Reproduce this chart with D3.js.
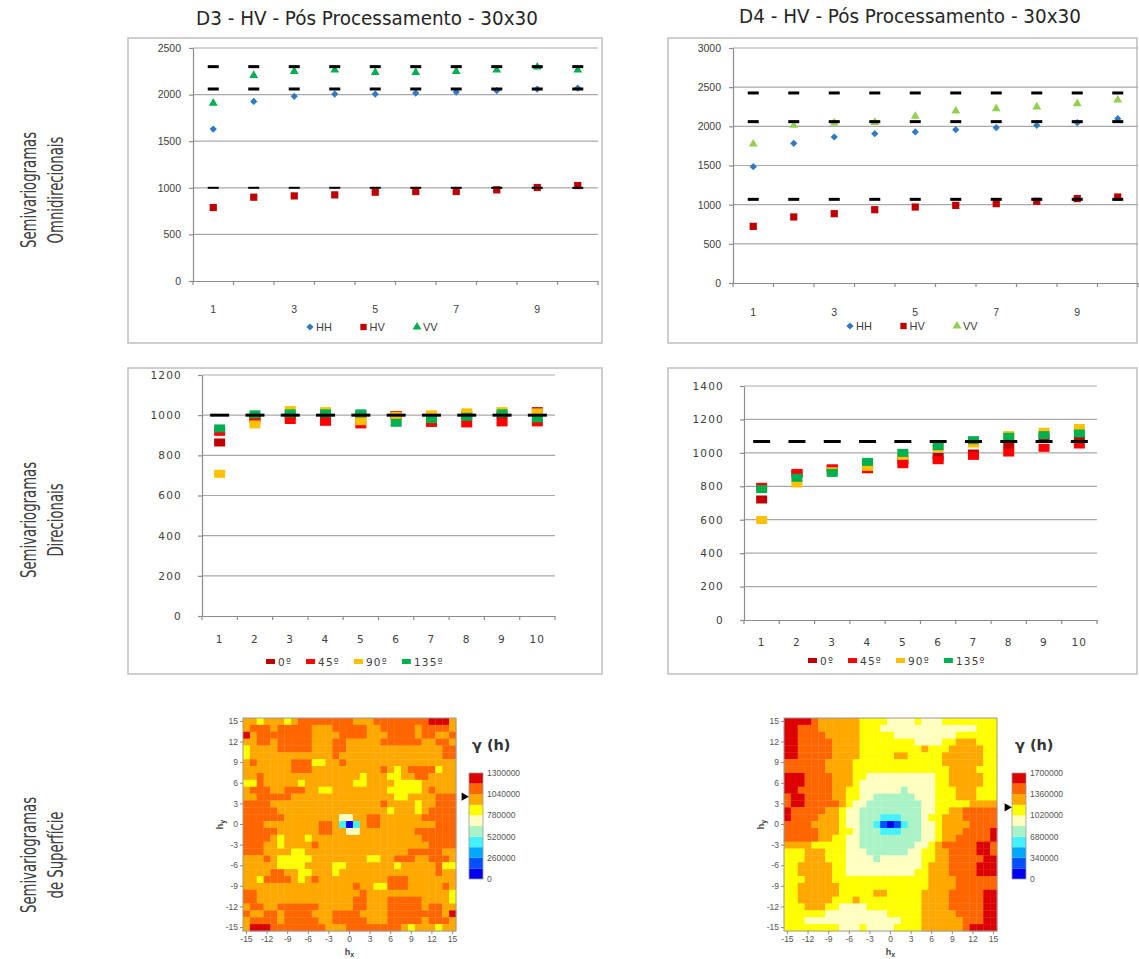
<!DOCTYPE html>
<html>
<head>
<meta charset="utf-8">
<script src="https://cdn.jsdelivr.net/npm/d3@7"></script>
<style>
  body { margin: 0; background: #fff; }
  svg { display: block; }
</style>
</head>
<body>
<script>
//chart values
var lags = [1, 2, 3, 4, 5, 6, 7, 8, 9, 10];
var omniNames = ["HH", "HV", "VV"];
var dirNames = ["0º", "45º", "90º", "135º"];
var titles = ["D3 - HV - Pós Processamento - 30x30", "D4 - HV - Pós Processamento - 30x30"];
var rowLabels = [["Semivariogramas", "Omnidirecionais"], ["Semivariogramas", "Direcionais"], ["Semivariogramas", "de Superfície"]];

//omnidirectional semivariograms
var d3HH = [1630, 1927, 1981, 2006, 2006, 2016, 2027, 2042, 2059, 2070];
var d3HV = [788, 899, 913, 924, 953, 960, 960, 978, 1003, 1024];
var d3VV = [1909, 2206, 2249, 2264, 2239, 2239, 2249, 2264, 2296, 2264];
var d3OmniSill = [2060, 1000, 2300];
var d3OmniTicks = [0, 500, 1000, 1500, 2000, 2500];

var d4HH = [1485, 1783, 1864, 1906, 1928, 1957, 1983, 2013, 2047, 2098];
var d4HV = [723, 843, 885, 936, 970, 991, 1013, 1043, 1077, 1098];
var d4VV = [1774, 2013, 2043, 2051, 2128, 2196, 2226, 2247, 2289, 2336];
var d4OmniSill = [2060, 1068, 2426];
var d4OmniTicks = [0, 500, 1000, 1500, 2000, 2500, 3000];

//directional semivariograms
var d3Dir0 = [864, 987, 1000, 1000, 1000, 1000, 962, 1000, 1000, 1020];
var d3Dir45 = [917, 984, 976, 967, 954, 1000, 964, 959, 964, 964];
var d3Dir90 = [708, 954, 1025, 1020, 970, 997, 1004, 1014, 1020, 1014];
var d3Dir135 = [934, 1004, 1009, 1009, 1009, 962, 980, 992, 1009, 984];
var d3DirSill = 1000;
var d3DirTicks = [0, 200, 400, 600, 800, 1000, 1200];

var d4Dir0 = [721, 876, 906, 916, 956, 976, 996, 1044, 1094, 1080];
var d4Dir45 = [797, 880, 906, 902, 932, 956, 982, 1002, 1030, 1050];
var d4Dir90 = [598, 817, 890, 916, 982, 1030, 1056, 1106, 1126, 1149];
var d4Dir135 = [783, 851, 880, 946, 1000, 1040, 1076, 1096, 1106, 1116];
var d4DirSill = 1068;
var d4DirTicks = [0, 200, 400, 600, 800, 1000, 1200, 1400];

//surface semivariograms: rows from hy=15 down to hy=-15, columns hx=-15..15
//class codes from low to high: D B S C G L Y A O R
var surfLags = [-15, -14, -13, -12, -11, -10, -9, -8, -7, -6, -5, -4, -3, -2, -1, 0,
                1, 2, 3, 4, 5, 6, 7, 8, 9, 10, 11, 12, 13, 14, 15];
var surfTicks = [-15, -12, -9, -6, -3, 0, 3, 6, 9, 12, 15];
var classCodes = ["D", "B", "S", "C", "G", "L", "Y", "A", "O", "R"];
var d3ColorTicks = [0, 260000, 520000, 780000, 1040000, 1300000];
var d4ColorTicks = [0, 340000, 680000, 1020000, 1360000, 1700000];
var d3ArrowValue = 1010000;
var d4ArrowValue = 1150000;

var d3Surface = [
  "AAYAAAYAOOOOOOOOAAAOOOOOOOORRRA",
  "AOOOAOOOOOAAAOOOOOAAOOOOOAOOOOA",
  "RAOOOOOOOOAAAAOOOOAAAOOOOAOOAAO",
  "AAOOAOOOOOAAAOOAAAAAOOOOOOAAOOA",
  "YAAAAOOOOOAAAOOAAAAAAAAAAAAAAOO",
  "YAAAAAAAAAAAAOAAAAAAAAAAAAAAAOO",
  "AOAAAAAOOOYYAAOAAAAAAAAAAAAAAAA",
  "AAAAAAAOOOAAAAAAAAAAOAYAOOOOYAA",
  "AAOAAAAAAAAAAAAAAYAAAYYAAOOAAAA",
  "YYOAAAAAYAAAAAAAYYAAAAYYYYAAAAA",
  "AOOOAAOOOAAYYAAAAAAAAYYYYYAOAAA",
  "AAOOOOOAAAAAAAAAAAAAAAYYAAAAOOO",
  "OOOOAAAAAAAAAAAAAAAAOAAAAYAAOOO",
  "OOOOOAAAAAAAAAAAAAAAAYAAAYAOOOO",
  "OOOOOOAAAAAAAALLAAOOAAAAAAOOOOO",
  "OOOAAAAAAAAOOACDCAOOAAAAAAAAOOO",
  "OOOOOAAAAAAOOAALLAAAAAAAAOOOOOO",
  "OOOOAYAAAYAAAAAAAAAAAAAAAAOOOOO",
  "OOOAAYAAAAOAAAAAAAAAAAAAAAAOOOO",
  "OOOAAAAYYAAAAAAAAAAAAAAAOOOOOAA",
  "AAAOAYYYYYAAAAAAAAYYAAOOOAAOOOA",
  "AAAAAYYYYAAAAYYAAAAAAAYAAAAAOYY",
  "AAAAOOAAYYAAAYAAAAAAAAAAAAAAOAA",
  "AAYOOOOAYAOAAAAAAAAAAOOOAAAAAAA",
  "AAAAAAAAAAAAAAAAOAAYYOOOAAAAAOA",
  "OOAAAAAAAAAAAAAAAOAAAAAAAAAAAAY",
  "OOAAAAAAAAAAAAAAOOAAAOOOOOAAAAY",
  "AOOAAOOOOOOAAAAAOOAAAOOOOOAOOAA",
  "OAAOOAOOOOAAAOOOOAAAAOOOOOOOOAR",
  "AOOOOAOOOOOAAOOOOOAAAOOOOOAOOOA",
  "ARRROOOOOOOOAAAOOOOOOOOAYAAAYAA"
];

var d4Surface = [
  "RRRROAAAAAAYYYYLLLLYLLLYYYYYYYY",
  "RROOOAAAAAAYYYLLLLLLLLLLLLLLYYY",
  "RROOOOAAAAAYYYYYLLLLLLLLLYYYYYY",
  "RROOOOOAAAAYYYYYYYYLLLLYYAAAYYY",
  "RROOOOOAAAAYYYYYYYYYAYYYAAAAAYY",
  "RROOOOOAAAAYYYYYAAYYYYYAAAAAAYY",
  "OOOOOOAAAAYYYYYYYYYYYYYAAAAAAYY",
  "OOOOOOAAAAYYYYYYYYYYYYYYAAAAYYY",
  "RRROOOOAAAYYLLLLLLLLLLYYAAAAAYY",
  "RRROOOOAAAYLLLLLLLLLLLYYAAAAAYY",
  "RROOOOOAAYYLLLLLLGLLLLYYYAAAYYY",
  "ORROOOOAAYYLLGGGGGGLLLYYYAAAYYY",
  "ORROOOOOAYLLGGGGGGGGLLYYYYYAAAA",
  "ROOOOOAAYLLGGGGGGGGGLLYYAAOOOOO",
  "ROOOOAAAYLLGGGCCCGGGLYYAAAOOOOO",
  "OOOOAAAAYLLGGCBDBCGGLLYAAAAOOOO",
  "OOOOOAAAYYLGGGCCCGGGLLYAAAOOOOR",
  "OOOOOAAYYLLGGGGGGGGGLLYAAOOOOOR",
  "AAAAYYYYYLLGGGGGGGGLLYAOOOOORRO",
  "YYYAAAYYYLLLGGGGGGLLYYAAOOOORRO",
  "YYYAAAYYYLLLLGLLLLLLYYAAOOOOORR",
  "YYAAAAAYYLLLLLLLLLLLYAAAOOOORRR",
  "YYAAAAAYYLLLLLLLLLLYYAAAOOOORRR",
  "YYYAAAAYYYYYYYYYYYYYYAAAAOOOOOO",
  "YYAAAAAAYYYYYYYYYYYYYAAAAOOOOOO",
  "YYAAAAAAYYYYYAAYYYYYAAAAOOOOORR",
  "YYAAAAAYYYAYYYYYYYYYAAAAOOOOORR",
  "YYYAAAYYLLLLYYYYYYYYAAAAOOOOORR",
  "YYYYYYLLLLLLLLLYYYYYAAAAAOOOORR",
  "YYYLLLLLLLLLLLLLLYYYAAAAAAOOORR",
  "YYYYYYYYLLLYLLLLYYYYAAAAAAORRRR"
];

(function(){

var width = 1139,
    height = 959;

var svg = d3.select("body")
    .append("svg")
    .attr("width", width)
    .attr("height", height)
    .style("font-family", "'Liberation Sans', Arial, sans-serif");

var narrow = "'Liberation Sans Narrow', 'DejaVu Sans Condensed', 'Liberation Sans', sans-serif";

//column titles
var titleCenters = d3.scaleOrdinal().domain(titles).range([367, 910]);
svg.selectAll(".title")
    .data(titles)
    .enter()
    .append("text")
    .attr("class", "title")
    .attr("x", function(d){ return titleCenters(d); })
    .attr("y", function(d, i){ return i ? 23 : 25; })
    .attr("text-anchor", "middle")
    .attr("textLength", 342)
    .attr("lengthAdjust", "spacingAndGlyphs")
    .style("font-family", narrow)
    .style("font-size", "19px")
    .style("fill", "#262626")
    .text(function(d){ return d; });

//row labels, rotated and squeezed like the original condensed face
var rowCenters = [190, 520, 855];
rowLabels.forEach(function(lines, i){
    lines.forEach(function(line, j){
        var t = svg.append("text")
            .attr("transform", "translate(" + (36 + j * 27) + "," + rowCenters[i] + ") rotate(-90)")
            .attr("text-anchor", "middle")
            .style("font-family", narrow)
            .style("font-size", "21px")
            .style("fill", "#404040")
            .text(line);
        t.attr("textLength", t.node().getComputedTextLength() * 0.7)
            .attr("lengthAdjust", "spacingAndGlyphs");
    });
});

drawOmni({
    box: [128, 38, 602, 343], left: 193, right: 598, top: 48, bottom: 281,
    ticks: d3OmniTicks, sill: d3OmniSill, sillH: [3, 2, 3], series: [d3HH, d3HV, d3VV],
    colors: ["#2e7bc4", "#c00000", "#00b050"], labelY: 313, legendY: 327
});
drawOmni({
    box: [668, 38, 1137, 343], left: 733, right: 1138, top: 48, bottom: 283,
    ticks: d4OmniTicks, sill: d4OmniSill, sillH: [3, 3, 3], series: [d4HH, d4HV, d4VV],
    colors: ["#2e7bc4", "#c00000", "#92d050"], labelY: 316, legendY: 326
});
drawDir({
    box: [128, 368, 602, 674], left: 202, right: 555, top: 375, bottom: 616,
    ticks: d3DirTicks, sill: d3DirSill, dashW: 19,
    series: [d3Dir0, d3Dir45, d3Dir90, d3Dir135], labelY: 643, legendY: 662
});
drawDir({
    box: [668, 368, 1137, 674], left: 744, right: 1097, top: 386, bottom: 620,
    ticks: d4DirTicks, sill: d4DirSill, dashW: 17,
    series: [d4Dir0, d4Dir45, d4Dir90, d4Dir135], labelY: 646, legendY: 661
});
drawSurface({
    grid: d3Surface, left: 243, top: 718, size: 213,
    colorTicks: d3ColorTicks, arrow: d3ArrowValue, barX: 469
});
drawSurface({
    grid: d4Surface, left: 784, top: 718, size: 213,
    colorTicks: d4ColorTicks, arrow: d4ArrowValue, barX: 1012
});


//frame around a chart
function frame(g, box){
    g.append("rect")
        .attr("x", box[0])
        .attr("y", box[1])
        .attr("width", box[2] - box[0])
        .attr("height", box[3] - box[1])
        .attr("fill", "none")
        .attr("stroke", "#c4c4c4")
        .attr("stroke-width", 1.6);
};

//gridlines, axes and category ticks shared by the two line charts
function setAxes(g, c, x, y, font){
    g.selectAll(".grid")
        .data(c.ticks.filter(function(t){ return t > 0; }))
        .enter()
        .append("line")
        .attr("class", "grid")
        .attr("x1", c.left)
        .attr("x2", c.right)
        .attr("y1", function(d){ return y(d); })
        .attr("y2", function(d){ return y(d); })
        .attr("stroke", "#a9a9a9")
        .attr("stroke-width", 1.2);

    var yAxis = g.append("g")
        .attr("transform", "translate(" + c.left + ",0)")
        .call(d3.axisLeft(y).tickValues(c.ticks).tickSize(4).tickSizeOuter(0)
            .tickPadding(font.pad).tickFormat(d3.format("d")));

    var xAxis = g.append("g")
        .attr("transform", "translate(0," + c.bottom + ")")
        .call(d3.axisBottom(x).tickSize(0).tickSizeOuter(0).tickFormat(""));

    //category boundary ticks
    var bounds = lags.map(function(d){ return x(d); }).concat([c.right]);
    g.selectAll(".xtick")
        .data(bounds)
        .enter()
        .append("line")
        .attr("class", "xtick")
        .attr("x1", function(d){ return d; })
        .attr("x2", function(d){ return d; })
        .attr("y1", c.bottom)
        .attr("y2", c.bottom + 4)
        .attr("stroke", "#8c8c8c")
        .attr("stroke-width", 1.2);

    [yAxis, xAxis].forEach(function(a){
        a.select(".domain").attr("stroke", "#8c8c8c").attr("stroke-width", 1.2);
        a.selectAll(".tick line").attr("stroke", "#8c8c8c").attr("stroke-width", 1.2);
        a.selectAll("text")
            .style("font-family", font.family)
            .style("font-size", font.size)
            .style("letter-spacing", font.spacing)
            .style("fill", "#404040");
    });
};

//category labels under the x axis
function setCategoryLabels(g, c, x, font, filter){
    g.selectAll(".xlabel")
        .data(lags.filter(filter))
        .enter()
        .append("text")
        .attr("class", "xlabel")
        .attr("x", function(d){ return x(d) + x.bandwidth() / 2; })
        .attr("y", c.labelY)
        .attr("text-anchor", "middle")
        .style("font-family", font.family)
        .style("font-size", font.size)
        .style("letter-spacing", font.spacing)
        .style("fill", "#404040")
        .text(function(d){ return d; });
};

//omnidirectional chart: diamond, square and triangle markers with sill dashes
function drawOmni(c){
    var g = svg.append("g");
    frame(g, c.box);

    var x = d3.scaleBand().domain(lags).range([c.left, c.right]);
    var y = d3.scaleLinear().domain([0, d3.max(c.ticks)]).range([c.bottom, c.top]);
    var font = { family: "'Liberation Sans', Arial, sans-serif", size: "10.5px", spacing: "0px", pad: 8 };

    setAxes(g, c, x, y, font);
    setCategoryLabels(g, c, x, font, function(d){ return d % 2 === 1; });

    var shapes = [
        d3.symbol().type(d3.symbolSquare).size(26),
        d3.symbol().type(d3.symbolSquare).size(52),
        d3.symbol().type(d3.symbolTriangle).size(34)
    ];
    var rotations = [45, 0, 0];

    c.series.forEach(function(vals, s){
        g.selectAll(".pt" + s)
            .data(vals)
            .enter()
            .append("path")
            .attr("class", "pt" + s)
            .attr("d", shapes[s])
            .attr("transform", function(d, i){
                return "translate(" + (x(lags[i]) + x.bandwidth() / 2) + "," + y(d) + ") rotate(" + rotations[s] + ")";
            })
            .attr("fill", c.colors[s]);
    });

    //sill dashes
    c.sill.forEach(function(s, k){
        g.selectAll(".sill" + k)
            .data(lags)
            .enter()
            .append("rect")
            .attr("class", "sill" + k)
            .attr("x", function(d){ return x(d) + x.bandwidth() / 2 - 5.5; })
            .attr("y", y(s) - c.sillH[k] / 2)
            .attr("width", 11)
            .attr("height", c.sillH[k])
            .attr("fill", "#000");
    });

    //legend
    var lx = d3.scalePoint().domain(omniNames).range([c.left + 117, c.left + 224]);
    omniNames.forEach(function(name, s){
        g.append("path")
            .attr("d", s === 1 ? d3.symbol().type(d3.symbolSquare).size(40)() : shapes[s]())
            .attr("transform", "translate(" + lx(name) + "," + c.legendY + ") rotate(" + rotations[s] + ")")
            .attr("fill", c.colors[s]);
        g.append("text")
            .attr("x", lx(name) + 6)
            .attr("y", c.legendY + 4)
            .style("font-size", "11px")
            .style("fill", "#404040")
            .text(name);
    });
};

//directional chart: rectangle markers for four directions
function drawDir(c){
    var g = svg.append("g");
    frame(g, c.box);

    var x = d3.scaleBand().domain(lags).range([c.left, c.right]);
    var y = d3.scaleLinear().domain([0, d3.max(c.ticks)]).range([c.bottom, c.top]);
    var font = { family: "'DejaVu Sans', Verdana, sans-serif", size: "10.5px", spacing: "1.2px", pad: 16 };
    var colors = ["#c00000", "#ff0000", "#ffc000", "#00b050"];

    setAxes(g, c, x, y, font);
    setCategoryLabels(g, c, x, font, function(){ return true; });

    c.series.forEach(function(vals, s){
        g.selectAll(".sq" + s)
            .data(vals)
            .enter()
            .append("rect")
            .attr("class", "sq" + s)
            .attr("x", function(d, i){ return x(lags[i]) + x.bandwidth() / 2 - 5.5; })
            .attr("y", function(d){ return y(d) - 4; })
            .attr("width", 11)
            .attr("height", 8)
            .attr("fill", colors[s]);
    });

    g.selectAll(".sill")
        .data(lags)
        .enter()
        .append("rect")
        .attr("class", "sill")
        .attr("x", function(d){ return x(d) + x.bandwidth() / 2 - c.dashW / 2; })
        .attr("y", y(c.sill) - 1.5)
        .attr("width", c.dashW)
        .attr("height", 3)
        .attr("fill", "#000");

    //legend, laid out item after item
    var cursor = c.left + 64;
    dirNames.forEach(function(name, s){
        g.append("rect")
            .attr("x", cursor)
            .attr("y", c.legendY - 3)
            .attr("width", 9)
            .attr("height", 5)
            .attr("fill", colors[s]);
        var t = g.append("text")
            .attr("x", cursor + 12)
            .attr("y", c.legendY + 4)
            .style("font-family", font.family)
            .style("font-size", "10.5px")
            .style("letter-spacing", "1.2px")
            .style("fill", "#404040")
            .text(name);
        cursor += 12 + t.node().getComputedTextLength() + 14;
    });
};

//semivariogram surface: class grid, axes and colour bar
function drawSurface(c){
    var g = svg.append("g");
    var palette = ["#0000f0", "#0050ff", "#00a8ff", "#44f2ff", "#aaf3c6",
                   "#ffffc0", "#ffff00", "#ffa800", "#ff6600", "#dc0000"];
    var color = d3.scaleOrdinal().domain(classCodes).range(palette);

    var x = d3.scaleBand().domain(surfLags).range([c.left, c.left + c.size]);
    var y = d3.scaleBand().domain(surfLags.slice().reverse()).range([c.top, c.top + c.size]);

    var cells = [];
    c.grid.forEach(function(row, i){
        row.split("").forEach(function(code, j){
            cells.push({ hx: surfLags[j], hy: surfLags[surfLags.length - 1 - i], code: code });
        });
    });

    g.selectAll(".cell")
        .data(cells)
        .enter()
        .append("rect")
        .attr("class", "cell")
        .attr("x", function(d){ return x(d.hx); })
        .attr("y", function(d){ return y(d.hy); })
        .attr("width", x.bandwidth() + 0.3)
        .attr("height", y.bandwidth() + 0.3)
        .attr("fill", function(d){ return color(d.code); });

    g.append("rect")
        .attr("x", c.left)
        .attr("y", c.top)
        .attr("width", c.size)
        .attr("height", c.size)
        .attr("fill", "none")
        .attr("stroke", "#9a9a9a")
        .attr("stroke-width", 1);

    var yAxis = g.append("g")
        .attr("transform", "translate(" + c.left + ",0)")
        .call(d3.axisLeft(y).tickValues(surfTicks).tickSize(3).tickSizeOuter(0).tickPadding(2));
    var xAxis = g.append("g")
        .attr("transform", "translate(0," + (c.top + c.size) + ")")
        .call(d3.axisBottom(x).tickValues(surfTicks).tickSize(3).tickSizeOuter(0).tickPadding(2));
    [yAxis, xAxis].forEach(function(a){
        a.select(".domain").remove();
        a.selectAll(".tick line").attr("stroke", "#8c8c8c");
        a.selectAll("text").style("font-size", "8.5px").style("fill", "#555");
    });

    //axis names
    var hx = g.append("text")
        .attr("x", c.left + c.size / 2)
        .attr("y", c.top + c.size + 24)
        .attr("text-anchor", "middle")
        .style("font-size", "9px")
        .style("font-weight", "bold")
        .style("fill", "#444");
    hx.append("tspan").text("h");
    hx.append("tspan").attr("dy", 2).style("font-size", "7px").text("x");

    var hy = g.append("text")
        .attr("transform", "translate(" + (c.left - 20) + "," + (c.top + c.size / 2) + ") rotate(-90)")
        .attr("text-anchor", "middle")
        .style("font-size", "9px")
        .style("font-weight", "bold")
        .style("fill", "#444");
    hy.append("tspan").text("h");
    hy.append("tspan").attr("dy", 2).style("font-size", "7px").text("y");

    //colour bar
    var max = d3.max(c.colorTicks);
    var cy = d3.scaleLinear().domain([0, max]).range([879, 773]);
    var bins = palette.map(function(col, i){ return { lo: max * i / palette.length, hi: max * (i + 1) / palette.length, col: col }; });

    g.selectAll(".bin")
        .data(bins)
        .enter()
        .append("rect")
        .attr("class", "bin")
        .attr("x", c.barX)
        .attr("y", function(d){ return cy(d.hi); })
        .attr("width", 14)
        .attr("height", function(d){ return cy(d.lo) - cy(d.hi); })
        .attr("fill", function(d){ return d.col; });

    g.append("rect")
        .attr("x", c.barX)
        .attr("y", cy(max))
        .attr("width", 14)
        .attr("height", cy(0) - cy(max))
        .attr("fill", "none")
        .attr("stroke", "#9a9a9a")
        .attr("stroke-width", 0.8);

    g.selectAll(".clabel")
        .data(c.colorTicks)
        .enter()
        .append("text")
        .attr("class", "clabel")
        .attr("x", c.barX + 18)
        .attr("y", function(d){ return cy(d); })
        .attr("dy", "0.35em")
        .style("font-size", "8.5px")
        .style("fill", "#555")
        .text(function(d){ return d; });

    g.append("path")
        .attr("d", d3.symbol().type(d3.symbolTriangle).size(30)())
        .attr("transform", "translate(" + (c.barX - 5) + "," + cy(c.arrow) + ") rotate(90)")
        .attr("fill", "#000");

    g.append("text")
        .attr("x", c.barX + 3)
        .attr("y", 750)
        .style("font-family", "'DejaVu Sans', sans-serif")
        .style("font-size", "14.5px")
        .style("font-weight", "bold")
        .style("fill", "#333")
        .text("γ (h)");
};

})();
</script>
</body>
</html>
